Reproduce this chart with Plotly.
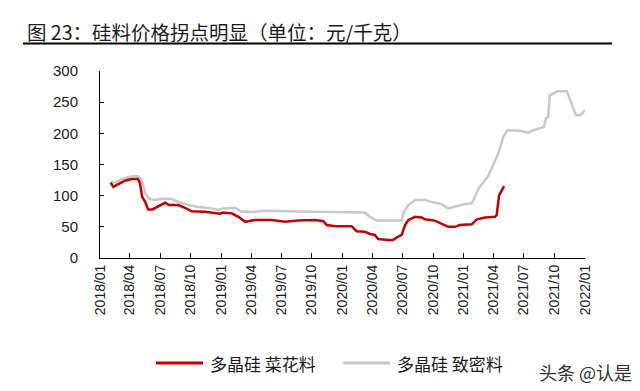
import plotly.graph_objects as go

# 多晶硅 菜花料 (red)
red_dates = ["2018-02-02", "2018-02-10", "2018-02-25", "2018-03-17", "2018-04-06", "2018-04-25",
             "2018-05-01", "2018-05-08", "2018-05-17", "2018-05-26", "2018-06-08", "2018-06-26",
             "2018-07-16", "2018-07-28", "2018-08-25", "2018-09-14", "2018-10-04", "2018-11-13",
             "2018-12-13", "2018-12-28", "2019-01-06", "2019-02-02", "2019-02-22",
             "2019-03-14", "2019-04-13", "2019-06-02", "2019-07-12", "2019-08-21", "2019-10-11",
             "2019-11-05", "2019-11-15", "2019-12-10", "2020-01-29", "2020-02-13", "2020-03-09",
             "2020-03-24", "2020-04-08", "2020-04-18", "2020-05-18", "2020-06-02", "2020-06-13",
             "2020-06-28", "2020-07-06", "2020-07-08", "2020-07-18", "2020-08-07", "2020-08-27",
             "2020-09-06", "2020-10-06", "2020-10-26", "2020-11-15", "2020-12-05", "2020-12-20",
             "2021-01-25", "2021-02-09", "2021-03-06", "2021-04-05", "2021-04-10", "2021-04-17",
             "2021-04-30", "2021-05-03"]
red_values = [120.7, 114, 118.6, 124, 126.6, 126.6,
              120.7, 98, 90, 78, 78, 83,
              88.6, 85, 85, 80.6, 75, 74,
              71.6, 71, 73, 71.6, 66,
              58, 61, 61, 58, 60, 61,
              59, 53, 51, 51, 43, 42,
              38.5, 37, 30.4, 29, 29, 33,
              37, 50, 53, 61, 66, 65,
              62, 60, 55.6, 50, 50, 53,
              54, 62, 65, 66, 69, 100,
              113, 115]

# 多晶硅 致密料 (gray)
gray_dates = ["2018-02-02", "2018-02-15", "2018-03-07", "2018-04-06", "2018-04-26", "2018-05-07",
              "2018-05-17", "2018-06-01", "2018-06-16", "2018-07-06", "2018-08-05", "2018-08-25",
              "2018-09-24", "2018-10-24", "2018-12-03", "2018-12-23", "2019-01-07", "2019-02-12",
              "2019-03-04", "2019-04-13", "2019-05-13", "2019-10-01", "2020-03-09", "2020-03-24",
              "2020-04-13", "2020-06-28", "2020-07-04", "2020-07-18", "2020-08-07", "2020-09-06",
              "2020-09-26", "2020-10-26", "2020-11-15", "2020-12-05", "2021-01-04", "2021-01-25",
              "2021-02-15", "2021-03-16", "2021-03-31", "2021-04-15", "2021-04-30", "2021-05-13",
              "2021-06-19", "2021-07-14", "2021-07-29", "2021-08-18", "2021-08-30", "2021-09-05",
              "2021-09-12", "2021-09-17", "2021-10-08", "2021-11-07", "2021-11-22", "2021-12-05",
              "2021-12-17", "2022-01-01"]
gray_values = [122, 120.7, 126.6, 131, 131, 125,
               103.6, 94, 93, 95, 94.6, 90,
               85, 82, 79.6, 77, 79.6, 80.6,
               74, 74, 76, 74, 73, 66,
               60, 60, 74, 85, 93, 93,
               90, 86.5, 79.6, 82, 86.5, 87.6,
               112, 132, 149, 168, 195, 205,
               204, 201, 205, 208, 210, 224,
               226, 261, 267, 268, 248, 229,
               229, 237]

series_names = ["多晶硅 菜花料", "多晶硅 致密料"]
series_colors = ["#c00000", "#c8c8c8"]
title_text = "图 23：硅料价格拐点明显（单位：元/千克）"
watermark_text = "头条 @认是"
y_ticks = [0, 50, 100, 150, 200, 250, 300]

FONT = "Liberation Sans, Arial, Noto Sans CJK SC, sans-serif"
CJK = "Noto Sans CJK SC, sans-serif"

fig = go.Figure()
fig.add_trace(go.Scatter(x=gray_dates, y=gray_values, mode="lines", name=series_names[1],
                         line=dict(color=series_colors[1], width=2.5)))
fig.add_trace(go.Scatter(x=red_dates, y=red_values, mode="lines", name=series_names[0],
                         line=dict(color=series_colors[0], width=2.5)))

# page body has an 8px margin, so the figure is shrunk by 8px to fit the window
fig.update_layout(
    width=632, height=383,
    margin=dict(l=92, r=55, t=63, b=133),
    paper_bgcolor="white", plot_bgcolor="white",
    font=dict(family=FONT, color="#1a1a1a", size=14),
    showlegend=False,
    xaxis=dict(type="date", range=["2018-01-01", "2022-01-01"], dtick="M3",
               tick0="2018-01-01", tickformat="%Y/%m", tickangle=-90,
               showgrid=False, zeroline=False, showline=True, linecolor="black", linewidth=1,
               ticks="inside", ticklen=5, tickcolor="black",
               tickfont=dict(size=14, family=FONT)),
    yaxis=dict(range=[0, 300], tickvals=y_ticks, showgrid=False, zeroline=False,
               showline=True, linecolor="black", linewidth=1,
               ticks="inside", ticklen=4, tickcolor="black",
               ticklabelstandoff=18, tickfont=dict(size=15, family=FONT)),
)

# title and rule
fig.add_annotation(text=title_text, xref="paper", yref="paper",
                   x=-0.1546, y=1.210, xanchor="left", yanchor="middle", showarrow=False,
                   font=dict(size=19.5, family=CJK, color="#1a1a1a"))
fig.add_shape(type="line", xref="paper", yref="paper", x0=-0.1588, x1=1.0557, y0=1.1476, y1=1.1476,
              line=dict(color="black", width=2))

# legend (drawn manually to match the longer line samples)
legend_y = -0.5615
legend_items = [(0.1155, 0.2124, 0.2227), (0.501, 0.598, 0.608)]
for (x0, x1, xt), name, color in zip(legend_items, series_names, series_colors):
    fig.add_shape(type="line", xref="paper", yref="paper", x0=x0, x1=x1, y0=legend_y, y1=legend_y,
                  line=dict(color=color, width=3))
    fig.add_annotation(text=name, xref="paper", yref="paper", x=xt, y=legend_y,
                       xanchor="left", yanchor="middle", showarrow=False,
                       font=dict(size=17, family=CJK, color="#1a1a1a"))

fig.add_annotation(text=watermark_text, xref="paper", yref="paper",
                   x=1.002, y=-0.6096, xanchor="center", yanchor="middle", showarrow=False,
                   font=dict(size=18, family=CJK, color="#333333"))

fig.write_html("out.html")
